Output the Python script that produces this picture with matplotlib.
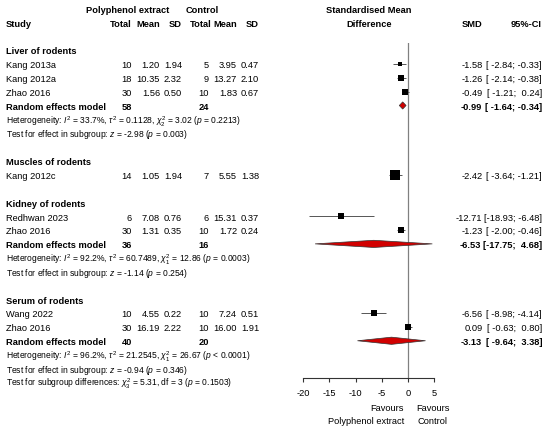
import matplotlib
matplotlib.use("Agg")
import matplotlib.pyplot as plt
from matplotlib.patches import Polygon
import numpy as np

plt.rcParams['font.family'] = ['Liberation Sans', 'DejaVu Sans']
plt.rcParams['mathtext.fontset'] = 'custom'
plt.rcParams['mathtext.rm'] = 'Liberation Sans'
plt.rcParams['mathtext.it'] = 'Liberation Sans:italic'
plt.rcParams['mathtext.bf'] = 'Liberation Sans:bold'
plt.rcParams['axes.unicode_minus'] = False

# ---------------- data ----------------
groups = ["Liver of rodents", "Muscles of rodents", "Kidney of rodents", "Serum of rodents"]
study_group = [0, 0, 0, 1, 2, 2, 3, 3]
studies = ["Kang 2013a", "Kang 2012a", "Zhao 2016", "Kang 2012c",
           "Redhwan 2023", "Zhao 2016", "Wang 2022", "Zhao 2016"]
n_e = [10, 18, 30, 14, 6, 30, 10, 30]
mean_e = ["1.20", "10.35", "1.56", "1.05", "7.08", "1.31", "4.55", "16.19"]
sd_e = ["1.94", "2.32", "0.50", "1.94", "0.76", "0.35", "0.22", "2.22"]
n_c = [5, 9, 10, 7, 6, 10, 10, 10]
mean_c = ["3.95", "13.27", "1.83", "5.55", "15.31", "1.72", "7.24", "16.00"]
sd_c = ["0.47", "2.10", "0.67", "1.38", "0.37", "0.24", "0.51", "1.91"]
smd = [-1.58, -1.26, -0.49, -2.42, -12.71, -1.23, -6.56, 0.09]
ci_lo = [-2.84, -2.14, -1.21, -3.64, -18.93, -2.00, -8.98, -0.63]
ci_hi = [-0.33, -0.38, 0.24, -1.21, -6.48, -0.46, -4.14, 0.80]
ci_txt = ["[ -2.84; -0.33]", "[ -2.14; -0.38]", "[ -1.21;  0.24]", "[ -3.64; -1.21]",
          "[-18.93; -6.48]", "[ -2.00; -0.46]", "[ -8.98; -4.14]", "[ -0.63;  0.80]"]
weights = [21.0, 35.0, 44.0, 100.0, 49.4, 50.6, 48.4, 51.6]

# random effects summaries
re_group = [0, 2, 3]
re_n_e = [58, 36, 40]
re_n_c = [24, 16, 20]
re_smd = [-0.99, -6.53, -3.13]
re_lo = [-1.64, -17.75, -9.64]
re_hi = [-0.34, 4.68, 3.38]
re_ci_txt = ["[ -1.64; -0.34]", "[-17.75;  4.68]", "[ -9.64;  3.38]"]
het_txt = [r"Heterogeneity: $I^2$ = 33.7%, $\tau^2$ = 0.1128, $\chi^2_2$ = 3.02 ($p$ = 0.2213)",
           r"Heterogeneity: $I^2$ = 92.2%, $\tau^2$ = 60.7489, $\chi^2_1$ = 12.86 ($p$ = 0.0003)",
           r"Heterogeneity: $I^2$ = 96.2%, $\tau^2$ = 21.2545, $\chi^2_1$ = 26.67 ($p$ < 0.0001)"]
test_txt = [r"Test for effect in subgroup: $z$ = -2.98 ($p$ = 0.003)",
            r"Test for effect in subgroup: $z$ = -1.14 ($p$ = 0.254)",
            r"Test for effect in subgroup: $z$ = -0.94 ($p$ = 0.346)"]
subgroup_diff_txt = r"Test for subgroup differences: $\chi^2_3$ = 5.31, df = 3 ($p$ = 0.1503)"
xticks = [-20, -15, -10, -5, 0, 5]
label_left = ["Favours", "Polyphenol extract"]
label_right = ["Favours", "Control"]

# ---------------- layout ----------------
W, H = 550, 427
fig = plt.figure(figsize=(W / 100, H / 100), dpi=100)
tax = fig.add_axes([0, 0, 1, 1])
tax.set_xlim(0, W)
tax.set_ylim(H, 0)
tax.axis('off')
renderer = fig.canvas.get_renderer()

def fit_size(s, target_px, bold=False, base=7.0):
    tt = tax.text(0, 0, s, fontsize=base, fontweight='bold' if bold else 'normal')
    w = tt.get_window_extent(renderer=renderer).width
    tt.remove()
    return base * target_px / w

# reference widths in pixels of sample strings
FS = fit_size("Random effects model", 99.6, bold=True)
FS_SMALL = 0.5 * (fit_size(test_txt[0], 184.3) + fit_size(het_txt[0], 236.0))

ROW0, ROWH = 9.6, 13.84
def ypx(r):
    return ROW0 + r * ROWH

AX_LEFT, AX_RIGHT = 303.3, 434.0
AX_BOTTOM, AX_TOP = 379.0, 44.0

rows = []
r = 3
for g in range(len(groups)):
    rows.append(("group", g, r)); r += 1
    for i, sg in enumerate(study_group):
        if sg == g:
            rows.append(("study", i, r)); r += 1
    if g in re_group:
        k = re_group.index(g)
        rows.append(("re", k, r)); r += 1
        rows.append(("het", k, r)); r += 1
        rows.append(("test", k, r)); r += 1
    r += 1
rows_sub_diff = r - 1

X_STUDY = 5.7
X_NE, X_ME, X_SE = 132, 160, 182
X_NC, X_MC, X_SC = 209, 237, 259
X_SMD, X_CI = 482.5, 542

def t_at(x, y, s, ha='right', bold=False, fs=None):
    fs = FS if fs is None else fs
    fpx = fs * 100 / 72
    tax.text(x, y + 0.36 * fpx, s, ha=ha, va='baseline', fontsize=fs,
             fontweight='bold' if bold else 'normal', color='black')

def t(x, r, s, ha='right', bold=False, fs=None):
    t_at(x, ypx(r), s, ha=ha, bold=bold, fs=fs)

# headers
t(128, 0, "Polyphenol extract", ha='center', bold=True)
t(202, 0, "Control", ha='center', bold=True)
t(X_STUDY, 1, "Study", ha='left', bold=True)
t(X_NE, 1, "Total", bold=True); t(X_ME, 1, "Mean", bold=True); t(X_SE, 1, "SD", bold=True)
t(212, 1, "Total", bold=True); t(X_MC, 1, "Mean", bold=True); t(X_SC, 1, "SD", bold=True)
axc = (AX_LEFT + AX_RIGHT) / 2
t(axc, 0, "Standardised Mean", ha='center', bold=True)
t(axc, 1, "Difference", ha='center', bold=True)
t(482, 1, "SMD", bold=True)
t(X_CI, 1, "95%-CI", bold=True)

# forest axes
fax = fig.add_axes([AX_LEFT / W, (H - AX_BOTTOM) / H,
                    (AX_RIGHT - AX_LEFT) / W, (AX_BOTTOM - AX_TOP) / H])
fax.set_xlim(xticks[0], xticks[-1])
fax.set_ylim((AX_BOTTOM - ROW0) / ROWH, (AX_TOP - ROW0) / ROWH)
fax.patch.set_alpha(0)
for s in ['top', 'right', 'left']:
    fax.spines[s].set_visible(False)
fax.spines['bottom'].set_color('#333333')
fax.spines['bottom'].set_linewidth(0.8)
fax.set_yticks([])
fax.set_xticks(xticks)
fax.set_xticklabels([str(v) for v in xticks])
fax.tick_params(axis='x', direction='out', length=3, width=0.8, color='#333333',
                labelsize=FS, pad=4)
fax.axvline(0, color='#808080', lw=0.9, zorder=1)

for kind, i, r in rows:
    if kind == "group":
        t(X_STUDY, r, groups[i], ha='left', bold=True)
    elif kind == "study":
        t(X_STUDY, r, studies[i], ha='left')
        t(X_NE, r, str(n_e[i])); t(X_ME, r, mean_e[i]); t(X_SE, r, sd_e[i])
        t(X_NC, r, str(n_c[i])); t(X_MC, r, mean_c[i]); t(X_SC, r, sd_c[i])
        t(X_SMD, r, f"{smd[i]:.2f}")
        t(X_CI, r, ci_txt[i])
        fax.plot([ci_lo[i], ci_hi[i]], [r, r], color='#555555', lw=0.7, zorder=2,
                 solid_capstyle='butt')
        fax.scatter([smd[i]], [r], marker='s', s=0.468 * weights[i], color='black',
                    linewidths=0, zorder=3, clip_on=False)
    elif kind == "re":
        t(X_STUDY, r, "Random effects model", ha='left', bold=True)
        t(X_NE, r, str(re_n_e[i]), bold=True)
        t(X_NC, r, str(re_n_c[i]), bold=True)
        t(X_SMD - 1, r, f"{re_smd[i]:.2f}", bold=True)
        t(X_CI, r, re_ci_txt[i], bold=True)
        hh = 0.26
        poly = Polygon([[re_lo[i], r], [re_smd[i], r - hh], [re_hi[i], r], [re_smd[i], r + hh]],
                       closed=True, facecolor='#D10000', edgecolor='#333333', lw=0.5,
                       zorder=4, clip_on=False)
        fax.add_patch(poly)
    elif kind == "het":
        t(X_STUDY, r + 0.05, het_txt[i], ha='left', fs=FS_SMALL)
    elif kind == "test":
        t(X_STUDY, r, test_txt[i], ha='left', fs=FS_SMALL)

t(X_STUDY, rows_sub_diff, subgroup_diff_txt, ha='left', fs=FS_SMALL)

# favours labels
t_at(404, 408, label_left[0]); t_at(404, 421, label_left[1])
t_at(416, 408, label_right[0], ha='left'); t_at(417.5, 421, label_right[1], ha='left')

fig.savefig("out.png", dpi=100)
